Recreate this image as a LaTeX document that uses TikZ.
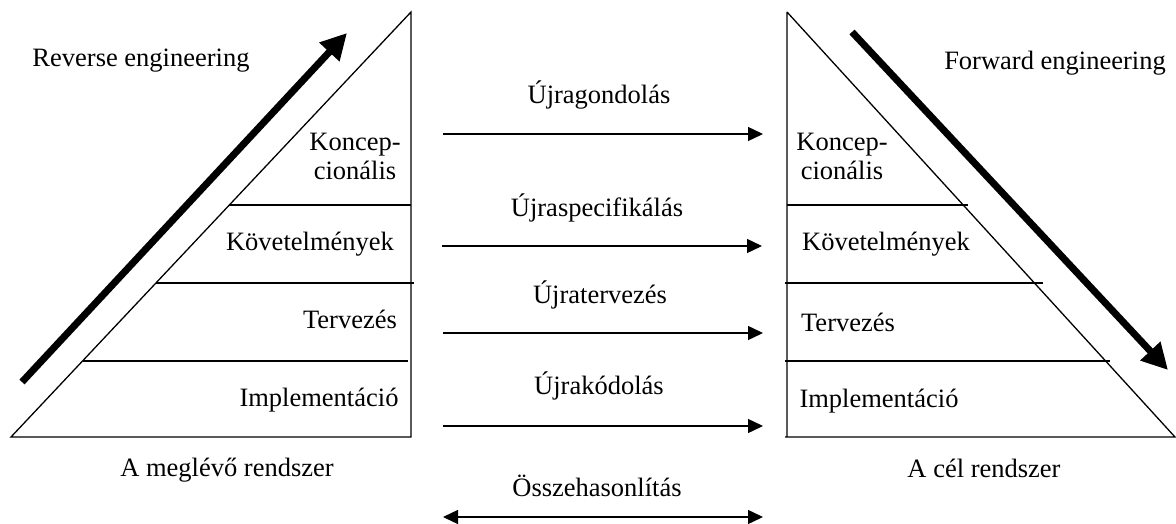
\documentclass[tikz,border=0pt]{standalone}
\usepackage{fontspec}
\setmainfont{Liberation Serif}
\usetikzlibrary{arrows.meta}
\begin{document}
\begin{tikzpicture}[x=1pt,y=-1pt,
  edge/.style={line width=1.3pt,line join=miter},
  level/.style={line width=1.3pt},
  lbl/.style={inner sep=0pt,anchor=base,font=\fontsize{26.5}{30}\selectfont},
  flow/.style={line width=1.4pt,-{Triangle[length=15pt,width=14pt]}},
  both/.style={line width=1.4pt,{Triangle[length=15pt,width=14pt]}-{Triangle[length=15pt,width=14pt]}},
  big/.style={line width=7pt,-{Triangle[length=26pt,width=26pt]}}]
\useasboundingbox (0,0) rectangle (1176,524);

% existing system: left triangle
\draw[edge] (11,437) -- (411,12) -- (411,437) -- cycle;
\draw[level] (229,205) -- (411,205);
\draw[level] (156,283) -- (414,283);
\draw[level] (83,361) -- (408,361);
\draw[big] (22,382) -- (347,33);

% target system: right triangle
\draw[edge] (787,12) -- (1175,437) -- (785,437) (787,437) -- (787,12);
\draw[level] (787,205) -- (968,205);
\draw[level] (785,283) -- (1043,283);
\draw[level] (785,361) -- (1110,361);
\draw[big] (852,32) -- (1168,370);

% labels of the left triangle
\node[lbl] (rev) at (141,67) {Reverse engineering};
\node[lbl] (lk1) at (355,151) {Koncep-};
\node[lbl] (lk2) at (355,180) {cionális};
\node[lbl] (lkov) at (310,250) {Követelmények};
\node[lbl] (lter) at (350,328) {Tervezés};
\node[lbl] (limp) at (319,406) {Implementáció};
\node[lbl] (lsys) at (227,476) {A meglévő rendszer};

% labels of the right triangle
\node[lbl] (fwd) at (1055,70) {Forward engineering};
\node[lbl] (rk1) at (842,151) {Koncep-};
\node[lbl] (rk2) at (842,180) {cionális};
\node[lbl] (rkov) at (886,250) {Követelmények};
\node[lbl] (rter) at (848,331) {Tervezés};
\node[lbl] (rimp) at (879,407) {Implementáció};
\node[lbl] (rsys) at (984,477) {A cél rendszer};

% transformations between the two systems
\coordinate (a1) at (443,134); \coordinate (b1) at (763,134);
\coordinate (a2) at (442,246); \coordinate (b2) at (762,246);
\coordinate (a3) at (443,333); \coordinate (b3) at (763,333);
\coordinate (a4) at (443,426); \coordinate (b4) at (763,426);
\coordinate (a5) at (443,517); \coordinate (b5) at (763,517);

\node[lbl] (t1) at (599,104) {Újragondolás};
\node[lbl] (t2) at (597,216) {Újraspecifikálás};
\node[lbl] (t3) at (600,303) {Újratervezés};
\node[lbl] (t4) at (599,394) {Újrakódolás};
\node[lbl] (t5) at (597,496) {Összehasonlítás};

\draw[flow] (a1) -- (b1);
\draw[flow] (a2) -- (b2);
\draw[flow] (a3) -- (b3);
\draw[flow] (a4) -- (b4);
\draw[both] (a5) -- (b5);
\end{tikzpicture}
\end{document}
